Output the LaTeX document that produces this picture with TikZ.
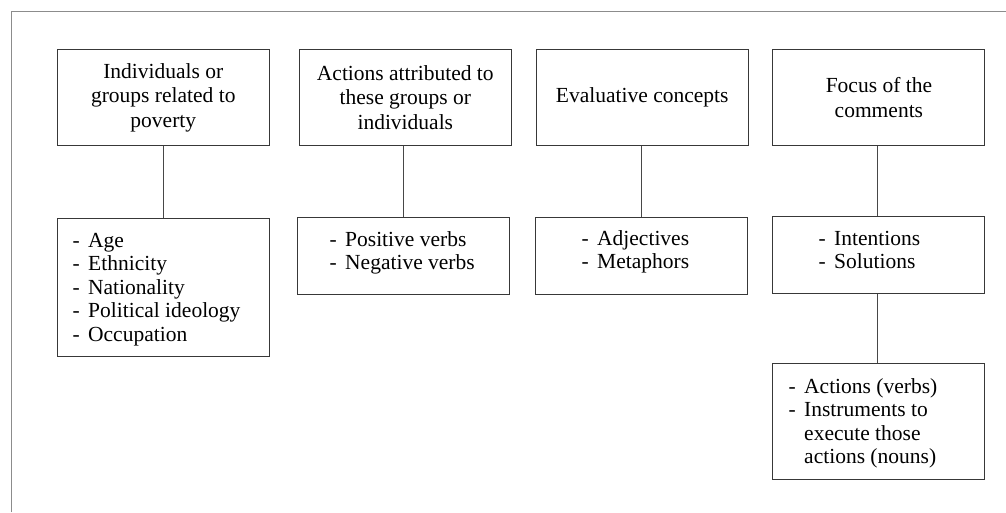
\documentclass[tikz,border=0pt]{standalone}
\usepackage{fontspec}
\setmainfont{Liberation Serif}
\begin{document}
\begin{tikzpicture}[x=1pt,y=-1pt,
  box/.style={draw=black!78,line width=1pt,minimum width=212pt,inner sep=0pt,align=center,
    font=\fontsize{21.5}{24.5}\selectfont},
  listtext/.style={anchor=base west,inner sep=0pt,font=\fontsize{21.5}{23.5}\selectfont},
  link/.style={draw=black!72,line width=1pt},
  frame/.style={draw=black!45,line width=1pt}]
\useasboundingbox (0,0) rectangle (1006,512);
\coordinate (f1) at (11.5,512);
\coordinate (f2) at (11.5,11);
\coordinate (f3) at (1006,11);
\draw[frame] (f1) -- (f2) -- (f3);
% top row
\node[box,minimum height=96pt] (t1) at (163.3,97.4) {Individuals or\\groups related to\\poverty};
\node[box,minimum height=96pt] (t2) at (405.3,97.4) {Actions attributed to\\these groups or\\individuals};
\node[box,minimum height=96pt] (t3) at (642.2,97.4) {Evaluative concepts};
\node[box,minimum height=96pt] (t4) at (878.9,97.4) {Focus of the\\comments};
% second row
\node[box,minimum height=138pt] (b1) at (163.2,287) {};
\node[box,minimum height=77pt] (b2) at (403.2,256.4) {};
\node[box,minimum height=77pt] (b3) at (641.2,255.5) {};
\node[box,minimum height=77pt] (b4) at (878.9,254.5) {};
\node[box,minimum height=115.6pt] (c4) at (878.9,421.5) {};
% list texts
\node[listtext] (l1) at (72.5,247) {\renewcommand{\arraystretch}{1}\begin{tabular}[t]{@{}p{15.5pt}@{}l@{}}-&Age\\-&Ethnicity\\-&Nationality\\-&Political ideology\\-&Occupation\end{tabular}};
\node[listtext] (l2) at (329.5,246) {\begin{tabular}[t]{@{}p{15.5pt}@{}l@{}}-&Positive verbs\\-&Negative verbs\end{tabular}};
\node[listtext] (l3) at (581.5,245) {\begin{tabular}[t]{@{}p{15.5pt}@{}l@{}}-&Adjectives\\-&Metaphors\end{tabular}};
\node[listtext] (l4) at (818.5,245) {\begin{tabular}[t]{@{}p{15.5pt}@{}l@{}}-&Intentions\\-&Solutions\end{tabular}};
\node[listtext] (l5) at (788.5,393) {\begin{tabular}[t]{@{}p{15.5pt}@{}l@{}}-&Actions (verbs)\\-&Instruments to\\&execute those\\&actions (nouns)\end{tabular}};
% connectors
\draw[link] (b1.north) -- (b1.north |- t1.south);
\draw[link] (b2.north) -- (b2.north |- t2.south);
\draw[link] (b3.north) -- (b3.north |- t3.south);
\draw[link] ([xshift=-1.5pt]b4.north) -- ([xshift=-1.5pt]b4.north |- t4.south);
\draw[link] ([xshift=-1.5pt]c4.north) -- ([xshift=-1.5pt]c4.north |- b4.south);
\end{tikzpicture}
\end{document}
